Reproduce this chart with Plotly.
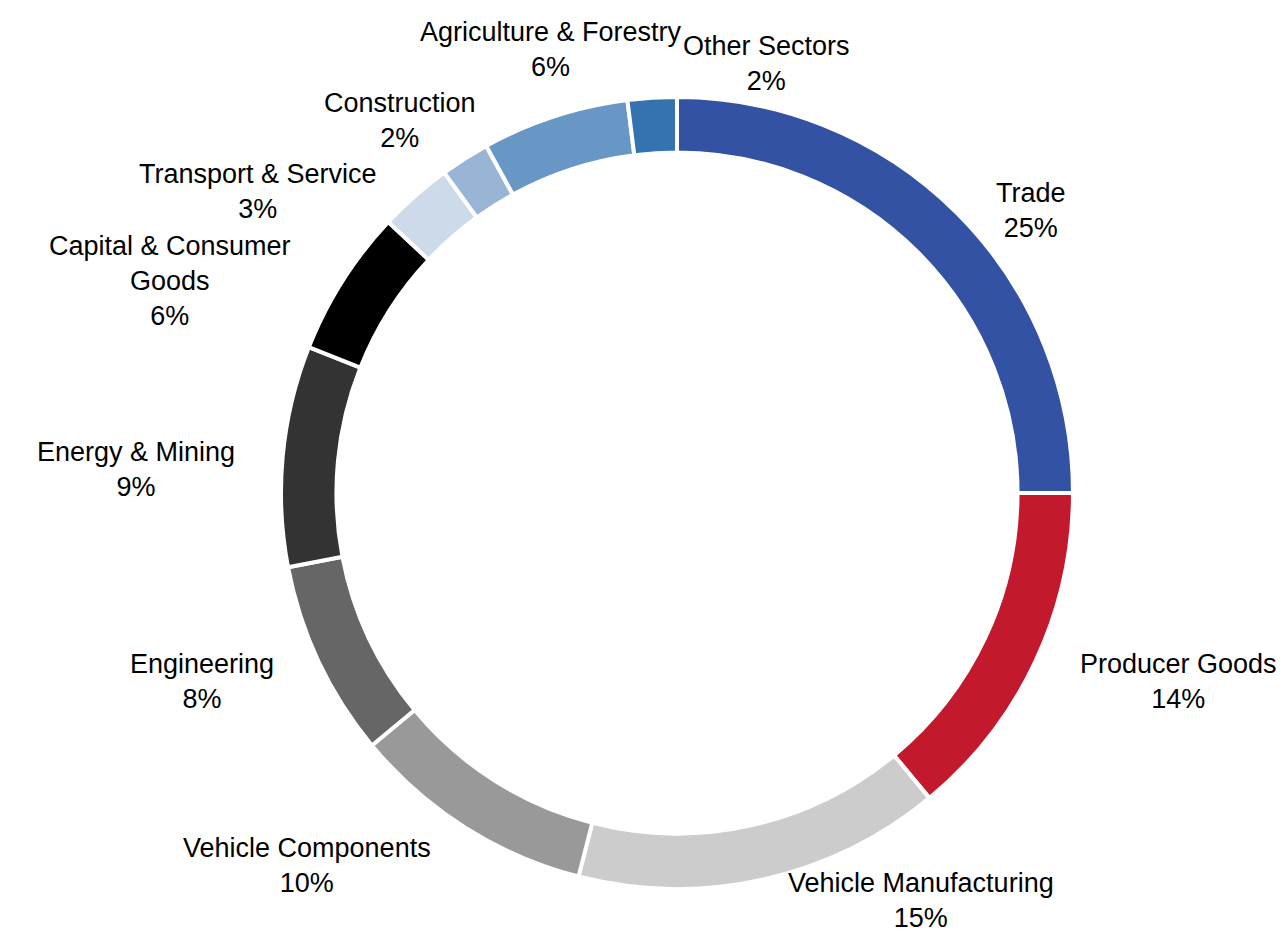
import math
import plotly.graph_objects as go

# sectors clockwise from 12 o'clock
sectors = ['Trade', 'Producer Goods', 'Vehicle Manufacturing', 'Vehicle Components',
           'Engineering', 'Energy & Mining', 'Capital & Consumer Goods',
           'Transport & Service', 'Construction', 'Agriculture & Forestry', 'Other Sectors']
shares = [25, 14, 15, 10, 8, 9, 6, 3, 2, 6, 2]
label_text = ['Trade', 'Producer Goods', 'Vehicle Manufacturing', 'Vehicle Components',
              'Engineering', 'Energy & Mining', 'Capital & Consumer<br>Goods',
              'Transport & Service', 'Construction', 'Agriculture & Forestry', 'Other Sectors']
colors = ['#3452A4', '#C3192C', '#CCCCCC', '#999999', '#666666', '#333333',
          '#000000', '#CCDAEA', '#99B5D6', '#6897C6', '#3572B0']

# figure size (page body keeps its 8px margin)
W, H = 1269, 930
# ring centre and outer radius in figure pixels
CX, CY, R = 669, 485, 396
HOLE = 0.86
FONT = 27
LINE_H = FONT * 1.3
GAP_X = 30    # extra horizontal room between ring and labels
DROP_Y = 14   # labels sit a little low

DOM_X = [(CX - R) / W, (CX + R) / W]
DOM_Y = [1 - (CY + R) / H, 1 - (CY - R) / H]

# Arial / Liberation Sans advance widths (per 1000 em)
ARIAL = {' ': 278, '&': 667, '%': 889, 'A': 667, 'C': 722, 'E': 667, 'G': 778,
         'M': 833, 'O': 778, 'P': 667, 'S': 667, 'T': 611, 'V': 667,
         'a': 556, 'c': 500, 'd': 556, 'e': 556, 'f': 278, 'g': 556, 'h': 556,
         'i': 222, 'l': 222, 'm': 833, 'n': 556, 'o': 556, 'p': 556, 'r': 333,
         's': 500, 't': 278, 'u': 556, 'v': 500, 'y': 500}


def text_width(line):
    return sum(ARIAL.get(ch, 556) for ch in line) * FONT / 1000.0


# outside labels, placed next to each slice's mid angle
total = float(sum(shares))
boxes = []
annotations = []
cum = 0
for lab, val in zip(label_text, shares):
    mid = 2 * math.pi * (cum + val / 2.0) / total
    cum += val
    lines = (lab + '<br>' + f'{val}%').split('<br>')
    w = max(text_width(l) for l in lines)
    h = len(lines) * LINE_H
    mx, my = (R + GAP_X) * math.sin(mid), -R * math.cos(mid)
    dx = w / 2 if mx >= 0 else -w / 2
    dy = h / 2 if my >= 0 else -h / 2
    ox = dx + abs(dy) * (1 if dx > 0 else -1) / 2
    oy = dy / (1 + mx * mx / (my * my))
    x, y = CX + mx + ox, CY + my + oy + DROP_Y
    y = min(max(y, h / 2 + 2), H - h / 2 - 2)

    # slide clockwise along the ring until it no longer overlaps earlier labels
    ux, uy = math.cos(mid), math.sin(mid)
    moved = True
    while moved:
        moved = False
        for bx, by, bw, bh in boxes:
            sx, sy = (w + bw) / 2, (h + bh) / 2
            if abs(x - bx) < sx and abs(y - by) < sy:
                cands = []
                if abs(ux) > 1e-6:
                    cands.append((sx - math.copysign(1, ux) * (x - bx)) / abs(ux))
                if abs(uy) > 1e-6:
                    cands.append((sy - math.copysign(1, uy) * (y - by)) / abs(uy))
                t = min(c for c in cands if c > 0) + 2
                x, y = x + t * ux, y + t * uy
                moved = True
    y = max(y, h / 2 + 2)
    boxes.append((x, y, w, h))
    annotations.append(dict(
        x=x / W, y=1 - y / H, xref='paper', yref='paper',
        xanchor='center', yanchor='middle', align='center',
        text='<br>'.join(lines), showarrow=False,
        font=dict(family='Liberation Sans, Arial', size=FONT, color='#000000'),
    ))

fig = go.Figure()
fig.add_trace(go.Pie(
    labels=sectors,
    values=shares,
    textinfo='none',
    hole=HOLE,
    sort=False,
    direction='clockwise',
    rotation=0,
    marker=dict(colors=colors, line=dict(color='#FFFFFF', width=4)),
    domain=dict(x=DOM_X, y=DOM_Y),
    showlegend=False,
))

fig.update_layout(
    width=W, height=H,
    margin=dict(l=0, r=0, t=0, b=0),
    paper_bgcolor='#FFFFFF',
    plot_bgcolor='#FFFFFF',
    annotations=annotations,
)

fig.write_html("out.html")
